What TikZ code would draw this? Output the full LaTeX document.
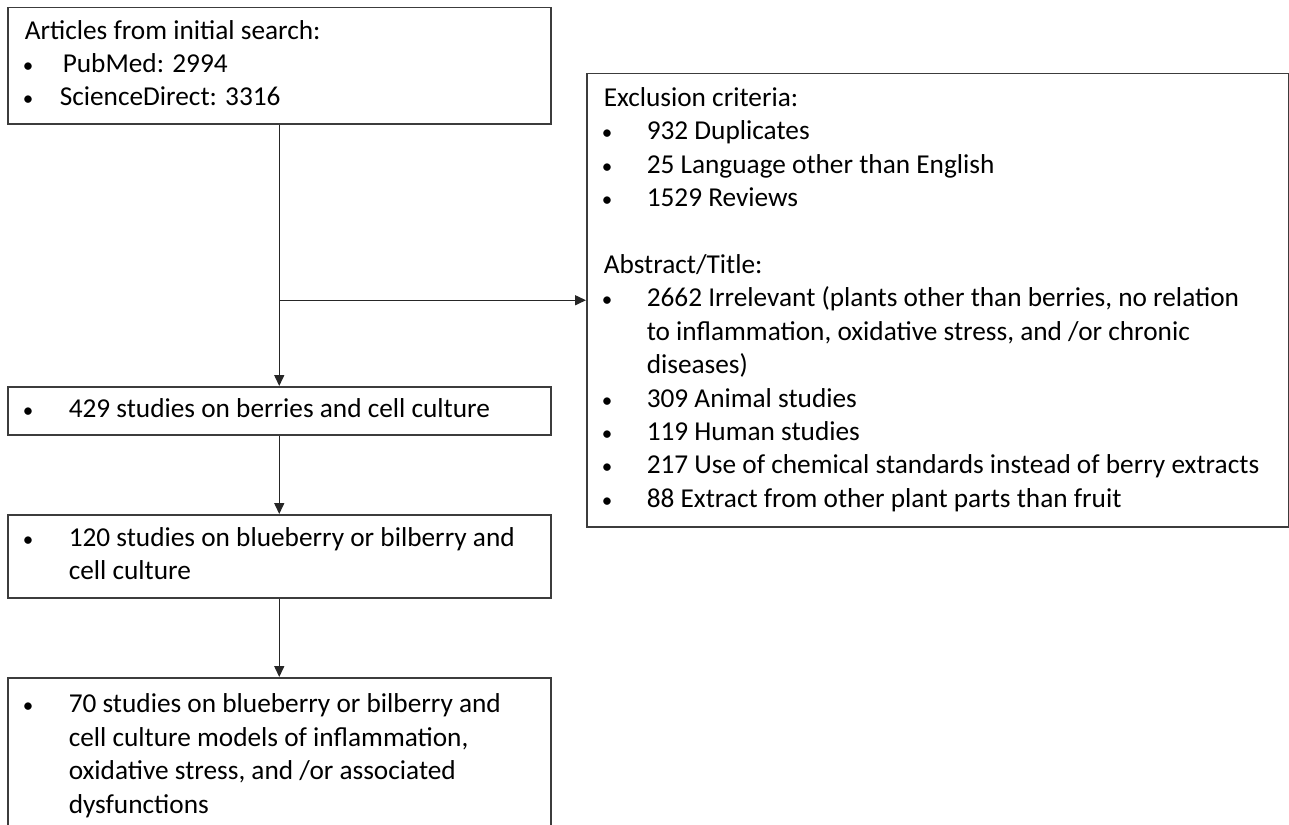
\documentclass[tikz,border=0pt]{standalone}
\usepackage{fontspec}
\setmainfont{Carlito}
\usetikzlibrary{arrows.meta}
\setlength{\parindent}{0pt}
\definecolor{boxline}{HTML}{3C3C3C}
\newcommand{\hd}[1]{\strut#1\strut\par}% titre de boite
\newcommand{\bdot}{\hspace*{-2pt}{\fontsize{21pt}{21pt}\selectfont\textbullet}}% petite puce
\newcommand{\bul}[2][43pt]{{\hangindent=#1\hangafter=1\makebox[#1][l]{\bdot}\strut#2\strut\par}}% puce
\tikzset{
	flowbox/.style = {rectangle, draw=boxline, line width=1.5pt, anchor=north west,
		inner xsep=17pt, inner ysep=0pt, text width=509pt,
		execute at begin node={\raggedright\spaceskip=0pt\xspaceskip=0pt},
		font=\fontsize{27.3pt}{33.4pt}\selectfont},% boite du diagramme
	flowline/.style = {line width=1.5pt, draw=black!85}% fleche
}

\begin{document}
\begin{tikzpicture}[x=1pt,y=-1pt,->,>={Triangle[length=11pt,width=10pt]}]
	\useasboundingbox (0,0) rectangle (1289,824);
	\node[flowbox, minimum height=116pt] (search) at (7,7) {
		\hd{Articles from initial search:}
		\bul[38pt]{PubMed: 2994}
		\bul[35pt]{ScienceDirect: 3316}};
	\node[flowbox, text width=668pt, minimum height=453pt] (excl) at (586,73) {
		\hd{Exclusion criteria:}
		\bul{932 Duplicates}
		\bul{25 Language other than English}
		\bul{1529 Reviews}
		\hd{}
		\hd{Abstract/Title:}
		\bul{2662 Irrelevant (plants other than berries, no relation\newline to inflammation, oxidative stress, and /or chronic\newline diseases)}
		\bul{309 Animal studies}
		\bul{119 Human studies}
		\bul{217 Use of chemical standards instead of berry extracts}
		\bul{88 Extract from other plant parts than fruit}};
	\node[flowbox, minimum height=48pt] (berries) at (7,386) {
		\bul[44pt]{429 studies on berries and cell culture}};
	\node[flowbox, minimum height=83pt] (blue) at (7,514) {
		\bul[44pt]{120 studies on blueberry or bilberry and\newline cell culture}};
	\node[flowbox, minimum height=157pt] (models) at (7,677) {
		\bul[44pt]{70 studies on blueberry or bilberry and\newline cell culture models of inflammation,\newline oxidative stress, and /or associated\newline dysfunctions}};
	\draw[flowline] (search) -- (berries);
	\draw[flowline] (berries.north |- excl.west) -- (excl.west);
	\draw[flowline] (berries) -- (blue);
	\draw[flowline] (blue) -- (models);
\end{tikzpicture}
\end{document}
